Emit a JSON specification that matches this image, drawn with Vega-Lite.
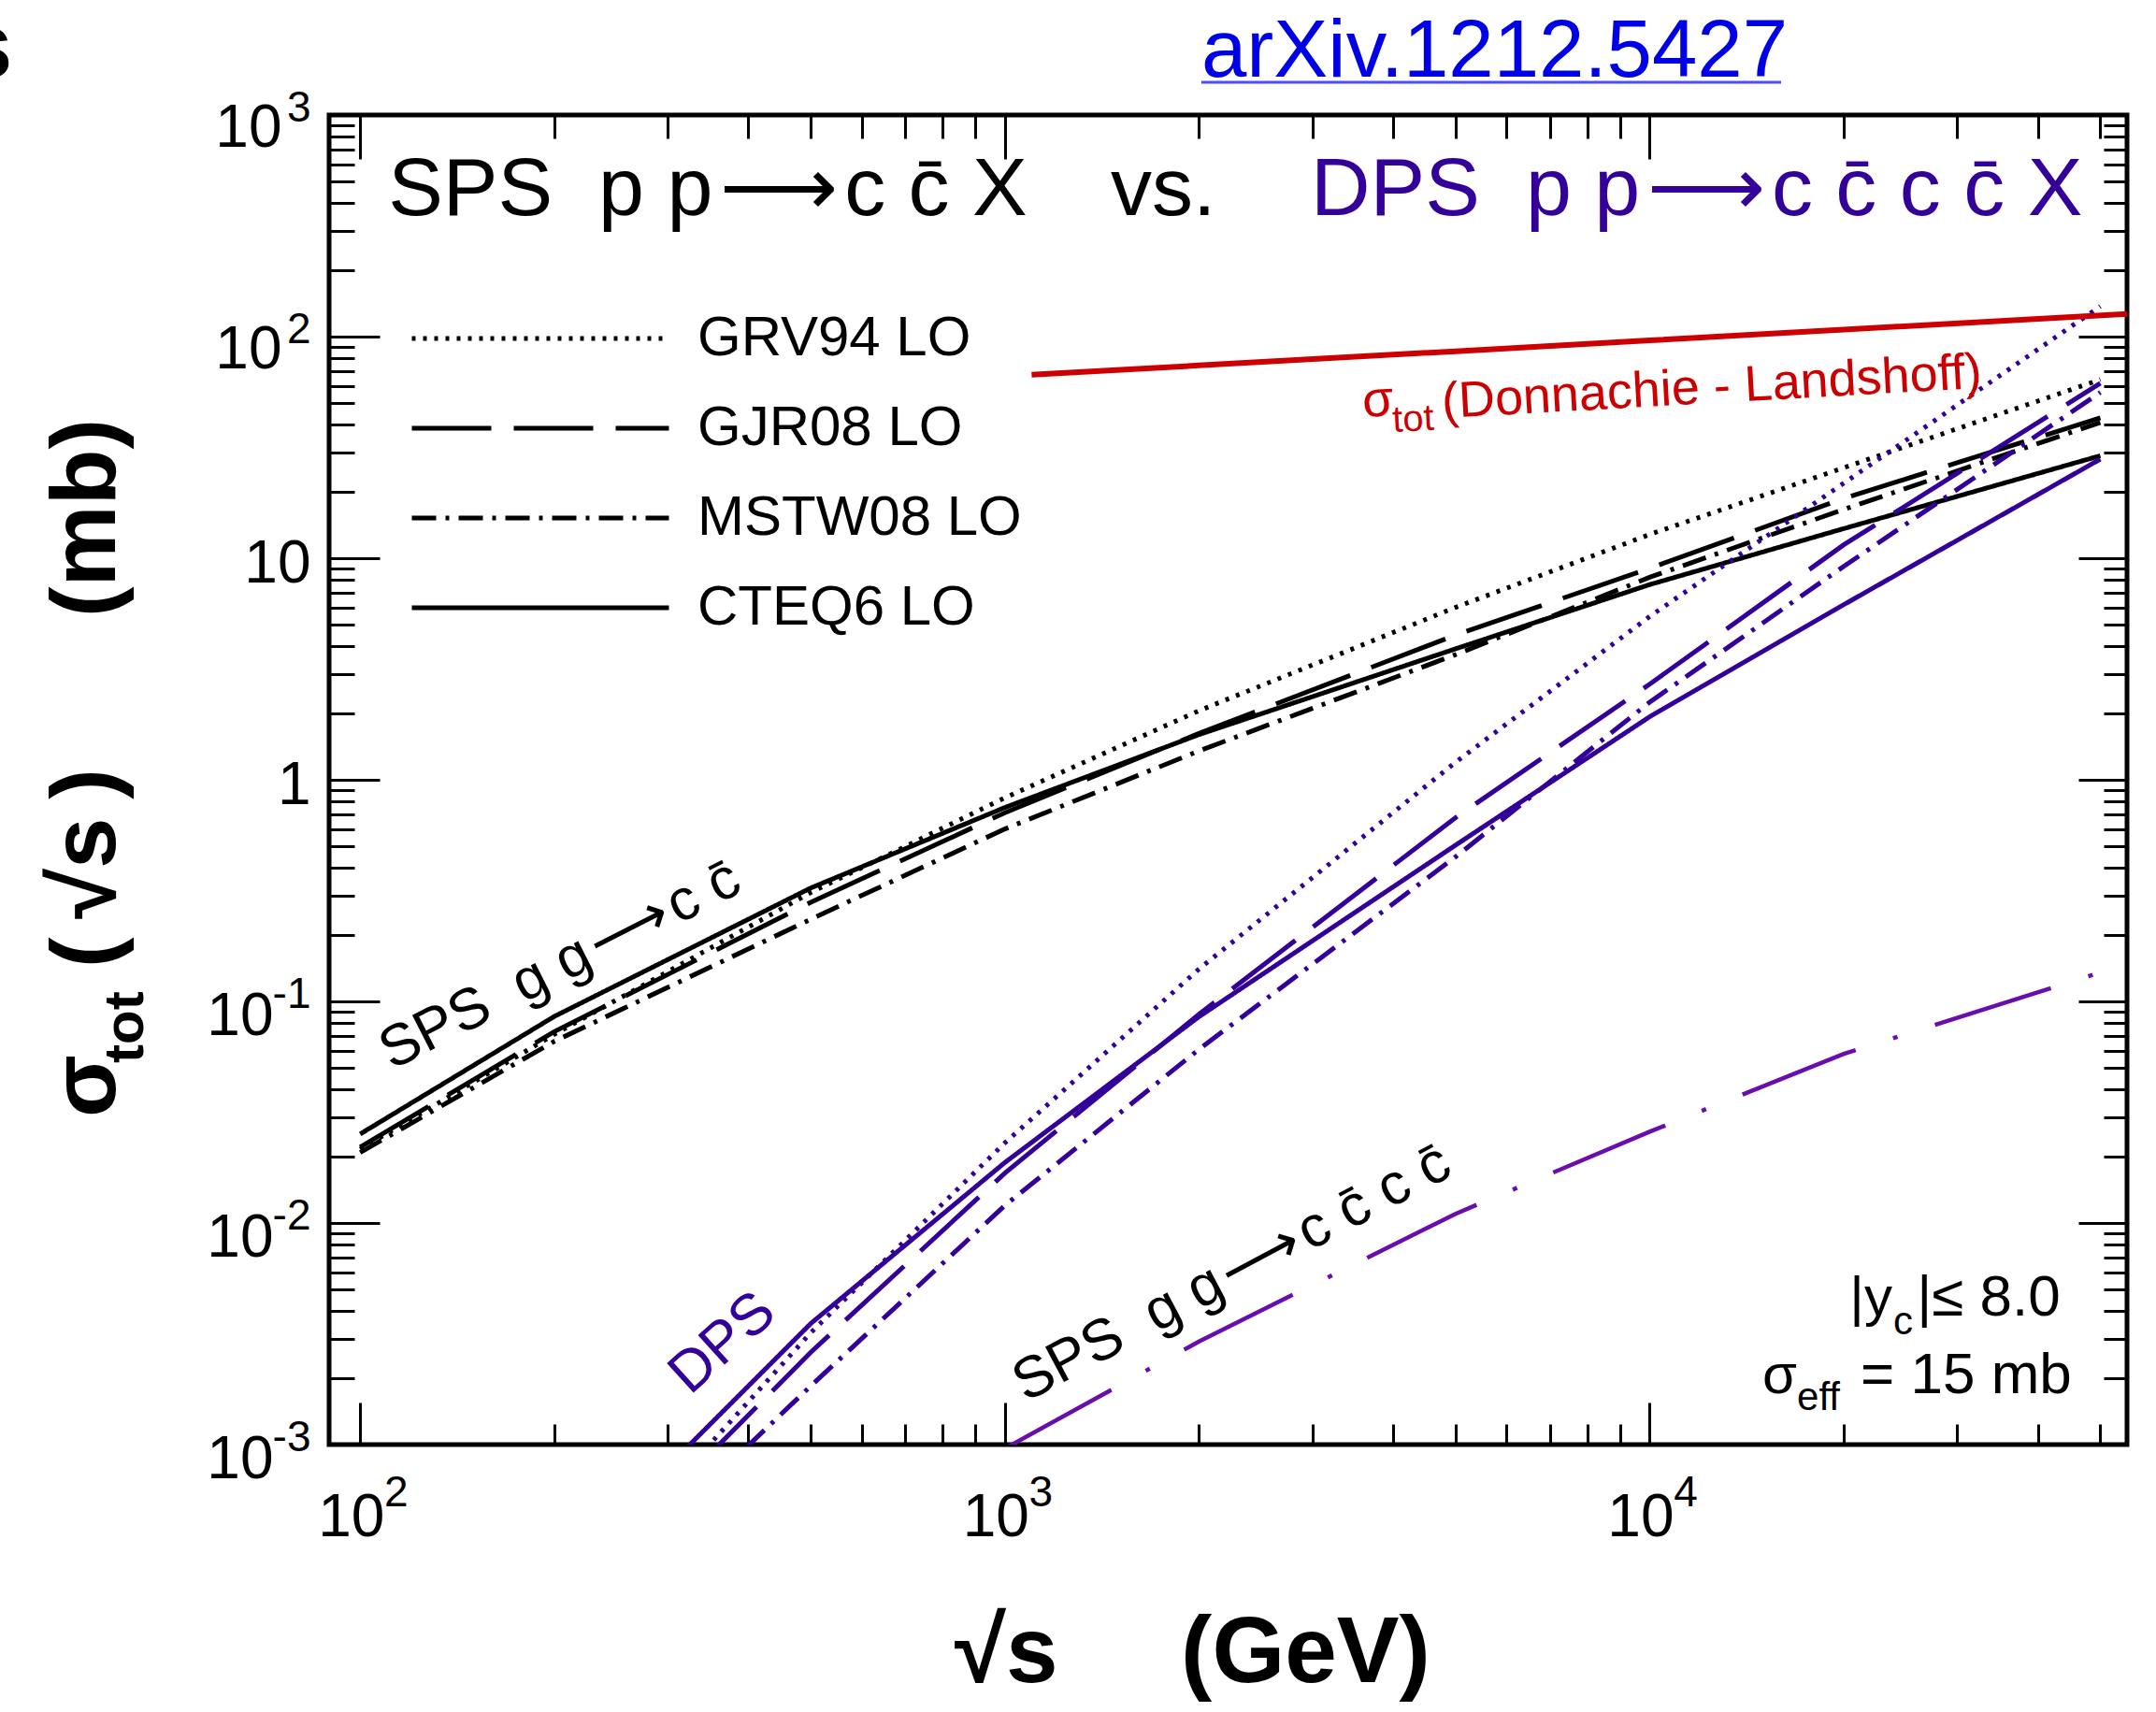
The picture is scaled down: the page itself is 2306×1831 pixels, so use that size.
{
"$schema":"https://vega.github.io/schema/vega-lite/v6.json",
"width":1923,"height":1422,
"autosize":{"type":"none"},
"padding":{"left":352,"top":123,"right":31,"bottom":286},
"background":"white",
"config":{"view":{"stroke":"black","strokeWidth":5},"font":"Liberation Sans","axis":{"grid":false}},
"datasets":{
"curves":[
{"pdf":"GRV94 LO","proc":"SPS","x":100,"y":0.0215},{"pdf":"GRV94 LO","proc":"SPS","x":200,"y":0.071},{"pdf":"GRV94 LO","proc":"SPS","x":500,"y":0.31},{"pdf":"GRV94 LO","proc":"SPS","x":1000,"y":0.83},{"pdf":"GRV94 LO","proc":"SPS","x":2000,"y":2.05},{"pdf":"GRV94 LO","proc":"SPS","x":5000,"y":6.0},{"pdf":"GRV94 LO","proc":"SPS","x":10000,"y":12.8},{"pdf":"GRV94 LO","proc":"SPS","x":20000,"y":25.6},{"pdf":"GRV94 LO","proc":"SPS","x":50000,"y":64},
{"pdf":"GJR08 LO","proc":"SPS","x":100,"y":0.022},{"pdf":"GJR08 LO","proc":"SPS","x":200,"y":0.073},{"pdf":"GJR08 LO","proc":"SPS","x":500,"y":0.28},{"pdf":"GJR08 LO","proc":"SPS","x":1000,"y":0.71},{"pdf":"GJR08 LO","proc":"SPS","x":2000,"y":1.62},{"pdf":"GJR08 LO","proc":"SPS","x":5000,"y":4.5},{"pdf":"GJR08 LO","proc":"SPS","x":10000,"y":9.0},{"pdf":"GJR08 LO","proc":"SPS","x":20000,"y":18.6},{"pdf":"GJR08 LO","proc":"SPS","x":50000,"y":43},
{"pdf":"MSTW08 LO","proc":"SPS","x":100,"y":0.0208},{"pdf":"MSTW08 LO","proc":"SPS","x":200,"y":0.066},{"pdf":"MSTW08 LO","proc":"SPS","x":500,"y":0.235},{"pdf":"MSTW08 LO","proc":"SPS","x":1000,"y":0.6},{"pdf":"MSTW08 LO","proc":"SPS","x":2000,"y":1.35},{"pdf":"MSTW08 LO","proc":"SPS","x":5000,"y":3.67},{"pdf":"MSTW08 LO","proc":"SPS","x":10000,"y":8.2},{"pdf":"MSTW08 LO","proc":"SPS","x":20000,"y":16.6},{"pdf":"MSTW08 LO","proc":"SPS","x":50000,"y":41},
{"pdf":"CTEQ6 LO","proc":"SPS","x":100,"y":0.0252},{"pdf":"CTEQ6 LO","proc":"SPS","x":200,"y":0.0855},{"pdf":"CTEQ6 LO","proc":"SPS","x":500,"y":0.325},{"pdf":"CTEQ6 LO","proc":"SPS","x":1000,"y":0.75},{"pdf":"CTEQ6 LO","proc":"SPS","x":2000,"y":1.6},{"pdf":"CTEQ6 LO","proc":"SPS","x":5000,"y":3.9},{"pdf":"CTEQ6 LO","proc":"SPS","x":10000,"y":7.6},{"pdf":"CTEQ6 LO","proc":"SPS","x":20000,"y":13.6},{"pdf":"CTEQ6 LO","proc":"SPS","x":50000,"y":29},
{"pdf":"GRV94 LO","proc":"DPS","x":100,"y":0.0000154},{"pdf":"GRV94 LO","proc":"DPS","x":200,"y":0.000168},{"pdf":"GRV94 LO","proc":"DPS","x":500,"y":0.0032},{"pdf":"GRV94 LO","proc":"DPS","x":1000,"y":0.023},{"pdf":"GRV94 LO","proc":"DPS","x":2000,"y":0.14},{"pdf":"GRV94 LO","proc":"DPS","x":5000,"y":1.2},{"pdf":"GRV94 LO","proc":"DPS","x":10000,"y":5.46},{"pdf":"GRV94 LO","proc":"DPS","x":20000,"y":21.8},{"pdf":"GRV94 LO","proc":"DPS","x":50000,"y":137},
{"pdf":"GJR08 LO","proc":"DPS","x":100,"y":0.0000161},{"pdf":"GJR08 LO","proc":"DPS","x":200,"y":0.000178},{"pdf":"GJR08 LO","proc":"DPS","x":500,"y":0.00261},{"pdf":"GJR08 LO","proc":"DPS","x":1000,"y":0.0168},{"pdf":"GJR08 LO","proc":"DPS","x":2000,"y":0.0875},{"pdf":"GJR08 LO","proc":"DPS","x":5000,"y":0.675},{"pdf":"GJR08 LO","proc":"DPS","x":10000,"y":2.7},{"pdf":"GJR08 LO","proc":"DPS","x":20000,"y":11.5},{"pdf":"GJR08 LO","proc":"DPS","x":50000,"y":61.6},
{"pdf":"MSTW08 LO","proc":"DPS","x":100,"y":0.0000144},{"pdf":"MSTW08 LO","proc":"DPS","x":200,"y":0.000145},{"pdf":"MSTW08 LO","proc":"DPS","x":500,"y":0.00184},{"pdf":"MSTW08 LO","proc":"DPS","x":1000,"y":0.012},{"pdf":"MSTW08 LO","proc":"DPS","x":2000,"y":0.0608},{"pdf":"MSTW08 LO","proc":"DPS","x":5000,"y":0.449},{"pdf":"MSTW08 LO","proc":"DPS","x":10000,"y":2.24},{"pdf":"MSTW08 LO","proc":"DPS","x":20000,"y":9.19},{"pdf":"MSTW08 LO","proc":"DPS","x":50000,"y":56},
{"pdf":"CTEQ6 LO","proc":"DPS","x":100,"y":0.0000212},{"pdf":"CTEQ6 LO","proc":"DPS","x":200,"y":0.000244},{"pdf":"CTEQ6 LO","proc":"DPS","x":500,"y":0.00352},{"pdf":"CTEQ6 LO","proc":"DPS","x":1000,"y":0.01875},{"pdf":"CTEQ6 LO","proc":"DPS","x":2000,"y":0.0853},{"pdf":"CTEQ6 LO","proc":"DPS","x":5000,"y":0.507},{"pdf":"CTEQ6 LO","proc":"DPS","x":10000,"y":1.925},{"pdf":"CTEQ6 LO","proc":"DPS","x":20000,"y":6.17},{"pdf":"CTEQ6 LO","proc":"DPS","x":50000,"y":28}
],
"sps4c":[{"x":1000,"y":0.00096},{"x":2000,"y":0.00292},{"x":5000,"y":0.011},{"x":10000,"y":0.0258},{"x":20000,"y":0.058},{"x":50000,"y":0.135}],
"dl":[{"x":1100,"y":67.3},{"x":2000,"y":74.1},{"x":5000,"y":85.9},{"x":10000,"y":96.1},{"x":20000,"y":107.6},{"x":55000,"y":126.6}]
},
"layer":[
{"data":{"name":"curves"},"transform":[{"filter":"datum.proc === 'SPS'"}],
 "mark":{"type":"line","color":"black","strokeWidth":5,"clip":true},
 "encoding":{
  "x":{"field":"x","type":"quantitative","scale":{"type":"log","domain":[89.5,55000],"nice":false},
   "axis":{"orient":"bottom","values":[100,1000,10000],"labelExpr":"'10'","ticks":false,"domain":false,"grid":false,"title":null,"labelFont":"Liberation Sans","labelFontSize":64,"labelColor":"black","labelPadding":97,"labelBaseline":"alphabetic","labelAlign":"center","labelOffset":-10,"labelFlush":false,"labelOverlap":false,"labelBound":false}},
  "y":{"field":"y","type":"quantitative","scale":{"type":"log","domain":[0.001,1000],"nice":false},
   "axis":{"orient":"left","values":[1,10],"labelExpr":"datum.value < 5 ? '1' : '10'","ticks":false,"domain":false,"grid":false,"title":null,"labelFont":"Liberation Sans","labelFontSize":64,"labelColor":"black","labelPadding":20,"labelAlign":"right","labelBaseline":"middle","labelOffset":6,"labelFlush":false,"labelOverlap":false,"labelBound":false}},
  "strokeDash":{"field":"pdf","type":"nominal","scale":{"domain":["GRV94 LO","GJR08 LO","MSTW08 LO","CTEQ6 LO"],"range":[[4,8],[85,24],[26,10,4,10],[1,0]]},
   "legend":{"orient":"none","legendX":86,"legendY":209,"direction":"vertical","title":null,"symbolType":"stroke","symbolSize":75625,"symbolStrokeWidth":5,"symbolStrokeColor":"black","clipHeight":60,"rowPadding":36,"labelFont":"Liberation Sans","labelFontSize":60,"labelColor":"black","labelOffset":28,"labelLimit":0,"padding":0,"symbolOffset":0}}
 }},
{"data":{"name":"curves"},"transform":[{"filter":"datum.proc === 'DPS'"}],
 "mark":{"type":"line","color":"#330099","strokeWidth":5,"clip":true},
 "encoding":{
  "x":{"field":"x","type":"quantitative","scale":{"type":"log","domain":[89.5,55000],"nice":false},
   "axis":{"orient":"bottom","values":[100,1000,10000],"labelExpr":"'' + round(log(datum.value)/LN10)","ticks":false,"domain":false,"grid":false,"title":null,"labelFont":"Liberation Sans","labelFontSize":46,"labelColor":"black","labelPadding":65,"labelBaseline":"alphabetic","labelAlign":"center","labelOffset":38,"labelFlush":false,"labelOverlap":false,"labelBound":false}},
  "y":{"field":"y","type":"quantitative","scale":{"type":"log","domain":[0.001,1000],"nice":false},
   "axis":{"orient":"left","values":[100,1000],"labelExpr":"'10'","ticks":false,"domain":false,"grid":false,"title":null,"labelFont":"Liberation Sans","labelFontSize":64,"labelColor":"black","labelPadding":51,"labelAlign":"right","labelBaseline":"middle","labelOffset":14,"labelFlush":false,"labelOverlap":false,"labelBound":false}},
  "strokeDash":{"field":"pdf","type":"nominal","scale":{"domain":["GRV94 LO","GJR08 LO","MSTW08 LO","CTEQ6 LO"],"range":[[4,8],[85,24],[26,10,4,10],[1,0]]},"legend":null}
 }},
{"data":{"name":"sps4c"},
 "mark":{"type":"line","color":"#6a0dad","strokeWidth":4.5,"strokeDash":[130,42,5,42],"clip":true},
 "encoding":{
  "x":{"field":"x","type":"quantitative","scale":{"type":"log","domain":[89.5,55000],"nice":false},
   "axis":{"orient":"bottom","values":[100,1000,10000],"labels":false,"domain":false,"grid":false,"title":null,"ticks":true,"tickSize":-45,"tickWidth":3,"tickColor":"black"}},
  "y":{"field":"y","type":"quantitative","scale":{"type":"log","domain":[0.001,1000],"nice":false},
   "axis":{"orient":"left","values":[0.1,0.01,0.001],"labelExpr":"'10'","ticks":false,"domain":false,"grid":false,"title":null,"labelFont":"Liberation Sans","labelFontSize":64,"labelColor":"black","labelPadding":60,"labelAlign":"right","labelBaseline":"middle","labelOffset":16,"labelFlush":false,"labelOverlap":false,"labelBound":false}}
 }},
{"data":{"name":"dl"},
 "mark":{"type":"line","color":"#cc0000","strokeWidth":6,"clip":true},
 "encoding":{
  "x":{"field":"x","type":"quantitative","scale":{"type":"log","domain":[89.5,55000],"nice":false},
   "axis":{"orient":"bottom","values":[200,300,400,500,600,700,800,900,2000,3000,4000,5000,6000,7000,8000,9000,20000,30000,40000,50000],"labels":false,"domain":false,"grid":false,"title":null,"ticks":true,"tickSize":-22,"tickWidth":3,"tickColor":"black"}},
  "y":{"field":"y","type":"quantitative","scale":{"type":"log","domain":[0.001,1000],"nice":false},
   "axis":{"orient":"left","values":[1000,100,0.1,0.01,0.001],"labelExpr":"(datum.value > 1 ? '' : '-') + round(abs(log(datum.value)/LN10))","ticks":false,"domain":false,"grid":false,"title":null,"labelFont":"Liberation Sans","labelFontSize":46,"labelColor":"black","labelPadding":20,"labelAlign":"right","labelBaseline":"middle","labelOffset":-8,"labelFlush":false,"labelOverlap":false,"labelBound":false}}
 }},
{"data":{"values":[{"x":2017,"x2":15990,"y":1405}]},
 "mark":{"type":"rule","color":"#4d4dff","strokeWidth":3},
 "encoding":{
  "x":{"field":"x","type":"quantitative","scale":{"type":"log","domain":[89.5,55000],"nice":false},
   "axis":{"orient":"top","values":[100,1000,10000],"labels":false,"domain":false,"grid":false,"title":null,"ticks":true,"tickSize":-47,"tickWidth":3,"tickColor":"black"}},
  "x2":{"field":"x2"},
  "y":{"field":"y","type":"quantitative","scale":{"type":"log","domain":[0.001,1000],"nice":false},
   "axis":{"orient":"left","values":[0.001,0.01,0.1,1,10,100,1000],"labels":false,"domain":false,"grid":false,"title":null,"ticks":true,"tickSize":-54,"tickWidth":3,"tickColor":"black"}}
 }},
{"data":{"values":[{"x":110.5,"y":354,"text":"SPS\u00a0\u00a0p p\u200a\u27f6\u200ac c\u0304 X"}]},
 "mark":{"type":"text","align":"left","baseline":"alphabetic","font":"Liberation Sans","fontSize":88,"color":"black"},
 "encoding":{
  "x":{"field":"x","type":"quantitative","scale":{"type":"log","domain":[89.5,55000],"nice":false},
   "axis":{"orient":"top","values":[200,300,400,500,600,700,800,900,2000,3000,4000,5000,6000,7000,8000,9000,20000,30000,40000,50000],"labels":false,"domain":false,"grid":false,"title":null,"ticks":true,"tickSize":-25,"tickWidth":3,"tickColor":"black"}},
  "y":{"field":"y","type":"quantitative","scale":{"type":"log","domain":[0.001,1000],"nice":false},
   "axis":{"orient":"left","values":[0.002,0.003,0.004,0.005,0.006,0.007,0.008,0.009,0.02,0.03,0.04,0.05,0.06,0.07,0.08,0.09,0.2,0.3,0.4,0.5,0.6,0.7,0.8,0.9,2,3,4,5,6,7,8,9,20,30,40,50,60,70,80,90,200,300,400,500,600,700,800,900],"labels":false,"domain":false,"grid":false,"title":null,"ticks":true,"tickSize":-27,"tickWidth":3,"tickColor":"black"}},
  "text":{"field":"text"}
 }},
{"data":{"values":[{"x":1459,"y":354,"text":"vs."}]},
 "mark":{"type":"text","align":"left","baseline":"alphabetic","font":"Liberation Sans","fontSize":88,"color":"black"},
 "encoding":{
  "x":{"field":"x","type":"quantitative","scale":{"type":"log","domain":[89.5,55000],"nice":false},"axis":null},
  "y":{"field":"y","type":"quantitative","scale":{"type":"log","domain":[0.001,1000],"nice":false},
   "axis":{"orient":"right","values":[0.001,0.01,0.1,1,10,100,1000],"labels":false,"domain":false,"grid":false,"title":null,"ticks":true,"tickSize":-52,"tickWidth":3,"tickColor":"black"}},
  "text":{"field":"text"}
 }},
{"data":{"values":[{"x":2982,"y":354,"text":"DPS\u00a0\u00a0p p\u200a\u27f6\u200ac c\u0304 c c\u0304 X"}]},
 "mark":{"type":"text","align":"left","baseline":"alphabetic","font":"Liberation Sans","fontSize":88,"color":"#330099"},
 "encoding":{
  "x":{"field":"x","type":"quantitative","scale":{"type":"log","domain":[89.5,55000],"nice":false},"axis":null},
  "y":{"field":"y","type":"quantitative","scale":{"type":"log","domain":[0.001,1000],"nice":false},
   "axis":{"orient":"right","values":[0.002,0.003,0.004,0.005,0.006,0.007,0.008,0.009,0.02,0.03,0.04,0.05,0.06,0.07,0.08,0.09,0.2,0.3,0.4,0.5,0.6,0.7,0.8,0.9,2,3,4,5,6,7,8,9,20,30,40,50,60,70,80,90,200,300,400,500,600,700,800,900],"labels":false,"domain":false,"grid":false,"title":null,"ticks":true,"tickSize":-25,"tickWidth":3,"tickColor":"black"}},
  "text":{"field":"text"}
 }},
{"data":{"values":[{"x":111.9,"y":0.0488,"text":"SPS\u00a0\u00a0g g\u200a\u27f6\u200ac c\u0304"}]},
 "mark":{"type":"text","align":"left","baseline":"alphabetic","font":"Liberation Sans","fontSize":62,"color":"black","angle":-27},
 "encoding":{"x":{"field":"x","type":"quantitative","scale":{"type":"log","domain":[89.5,55000],"nice":false},"axis":null},"y":{"field":"y","type":"quantitative","scale":{"type":"log","domain":[0.001,1000],"nice":false},"axis":null},"text":{"field":"text"}}},
{"data":{"values":[{"x":324.8,"y":0.001656,"text":"DPS"}]},
 "mark":{"type":"text","align":"left","baseline":"alphabetic","font":"Liberation Sans","fontSize":62,"color":"#330099","angle":-42},
 "encoding":{"x":{"field":"x","type":"quantitative","scale":{"type":"log","domain":[89.5,55000],"nice":false},"axis":null},"y":{"field":"y","type":"quantitative","scale":{"type":"log","domain":[0.001,1000],"nice":false},"axis":null},"text":{"field":"text"}}},
{"data":{"values":[{"x":1077,"y":0.00155,"text":"SPS\u00a0\u00a0g g\u200a\u27f6\u200ac c\u0304 c c\u0304"}]},
 "mark":{"type":"text","align":"left","baseline":"alphabetic","font":"Liberation Sans","fontSize":62,"color":"black","angle":-28},
 "encoding":{"x":{"field":"x","type":"quantitative","scale":{"type":"log","domain":[89.5,55000],"nice":false},"axis":null},"y":{"field":"y","type":"quantitative","scale":{"type":"log","domain":[0.001,1000],"nice":false},"axis":null},"text":{"field":"text"}}},
{"data":{"values":[{"x":23785,"y":0.00382,"text":"|y"},{"x":16925,"y":0.001706,"text":"\u03c3"}]},
 "mark":{"type":"text","align":"right","baseline":"alphabetic","font":"Liberation Sans","fontSize":60,"color":"black"},
 "encoding":{"x":{"field":"x","type":"quantitative","scale":{"type":"log","domain":[89.5,55000],"nice":false},"axis":null},"y":{"field":"y","type":"quantitative","scale":{"type":"log","domain":[0.001,1000],"nice":false},"axis":null},"text":{"field":"text"}}},
{"data":{"values":[{"x":25960,"y":0.00382,"text":"|\u2264 8.0"},{"x":21240,"y":0.001706,"text":"= 15 mb"}]},
 "mark":{"type":"text","align":"left","baseline":"alphabetic","font":"Liberation Sans","fontSize":62,"color":"black"},
 "encoding":{"x":{"field":"x","type":"quantitative","scale":{"type":"log","domain":[89.5,55000],"nice":false},"axis":null},"y":{"field":"y","type":"quantitative","scale":{"type":"log","domain":[0.001,1000],"nice":false},"axis":null},"text":{"field":"text"}}},
{"data":{"values":[{"x":23870,"y":0.00315,"text":"c"},{"x":16925,"y":0.00143,"text":"eff"}]},
 "mark":{"type":"text","align":"left","baseline":"alphabetic","font":"Liberation Sans","fontSize":42,"color":"black"},
 "encoding":{"x":{"field":"x","type":"quantitative","scale":{"type":"log","domain":[89.5,55000],"nice":false},"axis":null},"y":{"field":"y","type":"quantitative","scale":{"type":"log","domain":[0.001,1000],"nice":false},"axis":null},"text":{"field":"text"}}},
{"data":{"values":[{"x":3595,"y":43.4,"text":"\u03c3"},{"x":4774,"y":42.9,"text":"(Donnachie - Landshoff)"}]},
 "mark":{"type":"text","align":"left","baseline":"alphabetic","font":"Liberation Sans","fontSize":54,"color":"#cc0000","angle":-3.2},
 "encoding":{"x":{"field":"x","type":"quantitative","scale":{"type":"log","domain":[89.5,55000],"nice":false},"axis":null},"y":{"field":"y","type":"quantitative","scale":{"type":"log","domain":[0.001,1000],"nice":false},"axis":null},"text":{"field":"text"}}},
{"data":{"values":[{"x":4000,"y":37.1,"text":"tot"}]},
 "mark":{"type":"text","align":"left","baseline":"alphabetic","font":"Liberation Sans","fontSize":40,"color":"#cc0000","angle":-3.2},
 "encoding":{"x":{"field":"x","type":"quantitative","scale":{"type":"log","domain":[89.5,55000],"nice":false},"axis":null},"y":{"field":"y","type":"quantitative","scale":{"type":"log","domain":[0.001,1000],"nice":false},"axis":null},"text":{"field":"text"}}},
{"data":{"values":[{"x":2017,"y":1489,"text":"arXiv.1212.5427"}]},
 "mark":{"type":"text","align":"left","baseline":"alphabetic","font":"Liberation Sans Narrow, Liberation Sans","fontSize":87,"color":"#0000e6"},
 "encoding":{"x":{"field":"x","type":"quantitative","scale":{"type":"log","domain":[89.5,55000],"nice":false},"axis":null},"y":{"field":"y","type":"quantitative","scale":{"type":"log","domain":[0.001,1000],"nice":false},"axis":null},"text":{"field":"text"}}},
{"data":{"values":[{"x":28.9,"y":1475,"text":"s"}]},
 "mark":{"type":"text","align":"right","baseline":"alphabetic","font":"Liberation Sans","fontSize":100,"fontWeight":"bold","color":"black"},
 "encoding":{"x":{"field":"x","type":"quantitative","scale":{"type":"log","domain":[89.5,55000],"nice":false},"axis":null},"y":{"field":"y","type":"quantitative","scale":{"type":"log","domain":[0.001,1000],"nice":false},"axis":null},"text":{"field":"text"}}},
{"data":{"values":[{"x":835.5,"y":0.000085,"text":"\u221as"},{"x":1875,"y":0.000085,"text":"(GeV)"}]},
 "mark":{"type":"text","align":"left","baseline":"alphabetic","font":"Liberation Sans","fontSize":100,"fontWeight":"bold","color":"black"},
 "encoding":{"x":{"field":"x","type":"quantitative","scale":{"type":"log","domain":[89.5,55000],"nice":false},"axis":null},"y":{"field":"y","type":"quantitative","scale":{"type":"log","domain":[0.001,1000],"nice":false},"axis":null},"text":{"field":"text"}}},
{"data":{"values":[{"x":41.66,"y":0.03,"text":"\u03c3"},{"x":41.66,"y":0.1419,"text":"(\u2009\u221as\u2009)"},{"x":41.66,"y":5.42,"text":"(mb)"}]},
 "mark":{"type":"text","align":"left","baseline":"alphabetic","font":"Liberation Sans","fontSize":98,"fontWeight":"bold","color":"black","angle":-90},
 "encoding":{"x":{"field":"x","type":"quantitative","scale":{"type":"log","domain":[89.5,55000],"nice":false},"axis":null},"y":{"field":"y","type":"quantitative","scale":{"type":"log","domain":[0.001,1000],"nice":false},"axis":null},"text":{"field":"text"}}},
{"data":{"values":[{"x":46.05,"y":0.0527,"text":"tot"}]},
 "mark":{"type":"text","align":"left","baseline":"alphabetic","font":"Liberation Sans","fontSize":60,"fontWeight":"bold","color":"black","angle":-90},
 "encoding":{"x":{"field":"x","type":"quantitative","scale":{"type":"log","domain":[89.5,55000],"nice":false},"axis":null},"y":{"field":"y","type":"quantitative","scale":{"type":"log","domain":[0.001,1000],"nice":false},"axis":null},"text":{"field":"text"}}}
],
"resolve":{"axis":{"x":"independent","y":"independent"}}
}
